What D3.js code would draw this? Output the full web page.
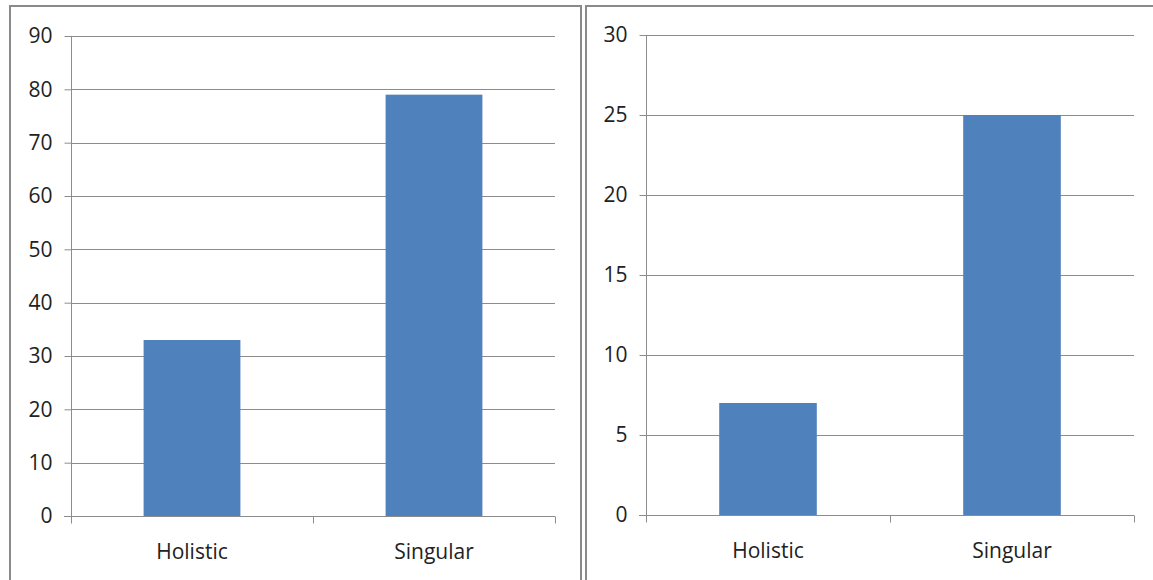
<!DOCTYPE html>
<html>
<head>
<meta charset="utf-8">
<script src="https://d3js.org/d3.v7.min.js"></script>
<style>
  html, body { margin: 0; padding: 0; background: #fff; }
  svg { display: block; }
  text { font-family: "Open Sans", "Noto Sans", sans-serif; fill: #222; }
</style>
</head>
<body>
<svg id="chart" width="1153" height="580"></svg>
<script>
// Category labels shared by both panels
const categories = ["Holistic", "Singular"];

// Left panel values and axis
const leftValues = [33, 79];
const leftMax = 90;
const leftTicks = [0, 10, 20, 30, 40, 50, 60, 70, 80, 90];

// Right panel values and axis
const rightValues = [7, 25];
const rightMax = 30;
const rightTicks = [0, 5, 10, 15, 20, 25, 30];

const svg = d3.select("#chart");
const gridColor = "#8c8c8c";
const barColor = "#4f81bd";
const fontSize = 21;

// Panel frames
svg.append("path")
  .attr("d", "M10,580 V6 H581 V580")
  .attr("fill", "none").attr("stroke", "#8a8a8a").attr("stroke-width", 2);
svg.append("path")
  .attr("d", "M586,580 V6 H1153")
  .attr("fill", "none").attr("stroke", "#8a8a8a").attr("stroke-width", 2);

function drawPanel(cfg) {
  const g = svg.append("g");
  const x = d3.scaleBand().domain(categories).range([cfg.x0, cfg.x1]).paddingInner(0).paddingOuter(0);
  const y = d3.scaleLinear().domain([0, cfg.max]).range([cfg.y0, cfg.y1]);

  // horizontal gridlines
  g.selectAll(".grid").data(cfg.ticks.filter(t => t > 0)).join("line")
    .attr("x1", cfg.x0).attr("x2", cfg.x1)
    .attr("y1", d => Math.round(y(d)) + 0.5).attr("y2", d => Math.round(y(d)) + 0.5)
    .attr("stroke", gridColor).attr("stroke-width", 1);

  // bars
  const bw = x.bandwidth() * 0.4;
  g.selectAll(".bar").data(categories).join("rect")
    .attr("x", d => x(d) + (x.bandwidth() - bw) / 2)
    .attr("width", bw)
    .attr("y", (d, i) => y(cfg.values[i]))
    .attr("height", (d, i) => y(0) - y(cfg.values[i]))
    .attr("fill", barColor);

  // y axis
  const yAxis = g.append("g").attr("transform", `translate(${cfg.x0 + 0.5},0)`)
    .call(d3.axisLeft(y).tickValues(cfg.ticks).tickSize(7).tickPadding(12).tickFormat(d3.format("d")));
  yAxis.select(".domain").attr("stroke", gridColor).attr("d", `M0,${cfg.y0}V${cfg.y1}`);
  yAxis.selectAll(".tick line").attr("stroke", gridColor);
  yAxis.selectAll(".tick text").attr("font-size", fontSize).attr("font-family", "'Open Sans', sans-serif").attr("fill", "#222");

  // x axis baseline and category dividers
  const xg = g.append("g").attr("transform", `translate(0,${Math.round(cfg.y0) + 0.5})`);
  xg.append("line").attr("x1", cfg.x0 - 7).attr("x2", cfg.x1).attr("stroke", gridColor);
  const edges = [cfg.x0, ...categories.map(c => x(c) + x.bandwidth())];
  xg.selectAll(".xt").data(edges).join("line")
    .attr("x1", d => Math.round(d) + 0.5).attr("x2", d => Math.round(d) + 0.5)
    .attr("y1", 0).attr("y2", 7).attr("stroke", gridColor);
  xg.selectAll(".xl").data(categories).join("text")
    .attr("x", d => x(d) + x.bandwidth() / 2)
    .attr("y", 42)
    .attr("text-anchor", "middle")
    .attr("font-size", fontSize)
    .text(d => d);
}

drawPanel({ x0: 71, x1: 555, y0: 516, y1: 36, max: leftMax, ticks: leftTicks, values: leftValues });
drawPanel({ x0: 646, x1: 1134, y0: 515, y1: 35, max: rightMax, ticks: rightTicks, values: rightValues });
</script>
</body>
</html>
